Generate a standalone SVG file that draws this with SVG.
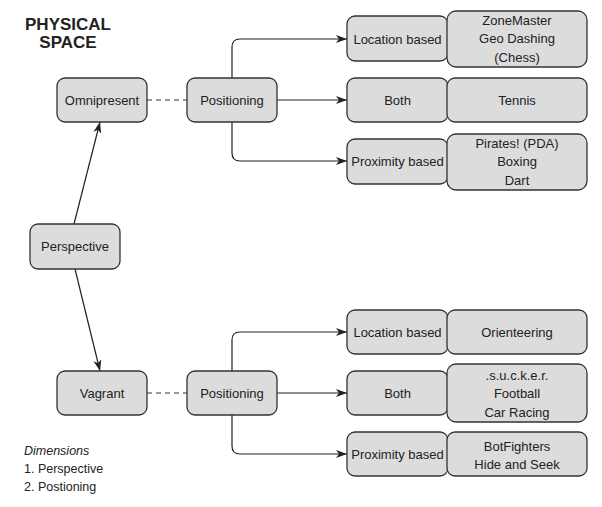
<svg xmlns="http://www.w3.org/2000/svg" width="602" height="507" viewBox="0 0 602 507">
<defs>
<marker id="ah" markerWidth="12" markerHeight="10" refX="11" refY="4" orient="auto" markerUnits="userSpaceOnUse">
<path d="M0,0 L11,4 L0,8 L3,4 z" fill="#222"/>
</marker>
<style>
.box{fill:#dcdcdc;stroke:#333;stroke-width:1.3}
.t{font-family:"Liberation Sans",Arial,sans-serif;font-size:13px;fill:#222;text-anchor:middle}
.ln{fill:none;stroke:#222;stroke-width:1.2}
.dash{fill:none;stroke:#333;stroke-width:1.2;stroke-dasharray:5,4}
.lg{font-family:"Liberation Sans",Arial,sans-serif;font-size:12.5px;fill:#222}
</style>
</defs>
<rect width="602" height="507" fill="#fff"/>
<g id="title">
<text x="68" y="30" text-anchor="middle" font-family="Liberation Sans, Arial, sans-serif" font-weight="bold" font-size="17" fill="#222">PHYSICAL</text>
<text x="68" y="48" text-anchor="middle" font-family="Liberation Sans, Arial, sans-serif" font-weight="bold" font-size="17" fill="#222">SPACE</text>
</g>
<g id="connectors">
<line class="ln" x1="74" y1="224" x2="100" y2="122" marker-end="url(#ah)"/>
<line class="ln" x1="75" y1="269" x2="100" y2="371" marker-end="url(#ah)"/>
<line class="dash" x1="147" y1="100" x2="187" y2="100"/>
<line class="dash" x1="147" y1="393" x2="187" y2="393"/>
<path class="ln" d="M232,78 V47 Q232,39 240,39 H347" marker-end="url(#ah)"/>
<path class="ln" d="M232,122 V153 Q232,161 240,161 H347" marker-end="url(#ah)"/>
<line class="ln" x1="277" y1="100" x2="347" y2="100" marker-end="url(#ah)"/>
<path class="ln" d="M232,371 V340 Q232,332 240,332 H347" marker-end="url(#ah)"/>
<path class="ln" d="M232,415 V446 Q232,454 240,454 H347" marker-end="url(#ah)"/>
<line class="ln" x1="277" y1="393" x2="347" y2="393" marker-end="url(#ah)"/>
</g>
<g id="omnipresent"><rect class="box" x="57" y="78" width="90" height="44" rx="8"/><text class="t" x="102" y="104.5">Omnipresent</text></g>
<g id="positioning-top"><rect class="box" x="187" y="78" width="90" height="44" rx="8"/><text class="t" x="232" y="104.5">Positioning</text></g>
<g id="perspective"><rect class="box" x="30" y="224" width="90" height="45" rx="8"/><text class="t" x="75" y="251">Perspective</text></g>
<g id="vagrant"><rect class="box" x="57" y="371" width="90" height="44" rx="8"/><text class="t" x="102" y="397.5">Vagrant</text></g>
<g id="positioning-bottom"><rect class="box" x="187" y="371" width="90" height="44" rx="8"/><text class="t" x="232" y="397.5">Positioning</text></g>

<g id="loc-top"><rect class="box" x="347" y="16" width="101" height="45" rx="8"/><text class="t" x="397.5" y="43.5">Location based</text></g>
<g id="games-loc-top"><rect class="box" x="447" y="11" width="140" height="56" rx="9"/><text class="t" x="517" y="24.5">ZoneMaster</text><text class="t" x="517" y="43">Geo Dashing</text><text class="t" x="517" y="61.5">(Chess)</text></g>
<g id="both-top"><rect class="box" x="347" y="78" width="101" height="44" rx="8"/><text class="t" x="397.5" y="104.5">Both</text></g>
<g id="games-both-top"><rect class="box" x="447" y="78" width="140" height="44" rx="8"/><text class="t" x="517" y="104.5">Tennis</text></g>
<g id="prox-top"><rect class="box" x="347" y="139" width="101" height="45" rx="8"/><text class="t" x="397.5" y="165.5">Proximity based</text></g>
<g id="games-prox-top"><rect class="box" x="447" y="134" width="140" height="56" rx="9"/><text class="t" x="517" y="147.5">Pirates! (PDA)</text><text class="t" x="517" y="166">Boxing</text><text class="t" x="517" y="184.5">Dart</text></g>

<g id="loc-bottom"><rect class="box" x="347" y="310" width="101" height="44" rx="8"/><text class="t" x="397.5" y="336.5">Location based</text></g>
<g id="games-loc-bottom"><rect class="box" x="447" y="310" width="140" height="44" rx="8"/><text class="t" x="517" y="336.5">Orienteering</text></g>
<g id="both-bottom"><rect class="box" x="347" y="371" width="101" height="44" rx="8"/><text class="t" x="397.5" y="397.5">Both</text></g>
<g id="games-both-bottom"><rect class="box" x="447" y="364" width="140" height="58" rx="9"/><text class="t" x="517" y="379.5">.s.u.c.k.e.r.</text><text class="t" x="517" y="398">Football</text><text class="t" x="517" y="416.5">Car Racing</text></g>
<g id="prox-bottom"><rect class="box" x="347" y="432" width="101" height="44" rx="8"/><text class="t" x="397.5" y="458.5">Proximity based</text></g>
<g id="games-prox-bottom"><rect class="box" x="447" y="432" width="140" height="44" rx="8"/><text class="t" x="517" y="450.5">BotFighters</text><text class="t" x="517" y="469">Hide and Seek</text></g>

<g id="legend">
<text class="lg" x="24" y="455" font-style="italic">Dimensions</text>
<text class="lg" x="24" y="473">1. Perspective</text>
<text class="lg" x="24" y="491">2. Postioning</text>
</g>
</svg>
